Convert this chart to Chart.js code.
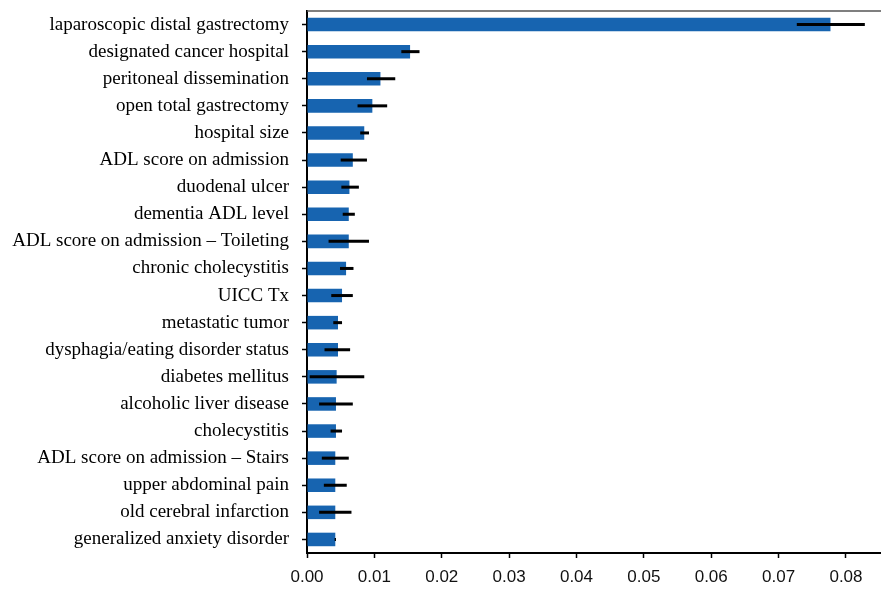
<!DOCTYPE html>
<html>
<head>
<meta charset="utf-8">
<script src="https://cdn.jsdelivr.net/npm/chart.js@4.4.1/dist/chart.umd.min.js"></script>
<style>
  html, body { margin: 0; padding: 0; background: #fff; }
  #wrap { width: 881px; height: 590px; }
</style>
</head>
<body>
<div id="wrap"><canvas id="c" width="881" height="590"></canvas></div>
<script>
// Feature names, top to bottom
const features = [
  "laparoscopic distal gastrectomy",
  "designated cancer hospital",
  "peritoneal dissemination",
  "open total gastrectomy",
  "hospital size",
  "ADL score on admission",
  "duodenal ulcer",
  "dementia ADL level",
  "ADL score on admission \u2013 Toileting",
  "chronic cholecystitis",
  "UICC Tx",
  "metastatic tumor",
  "dysphagia/eating disorder status",
  "diabetes mellitus",
  "alcoholic liver disease",
  "cholecystitis",
  "ADL score on admission \u2013 Stairs",
  "upper abdominal pain",
  "old cerebral infarction",
  "generalized anxiety disorder"
];

// Mean importance per feature
const importance = [
  0.0777, 0.0153, 0.0109, 0.0097, 0.0085, 0.0068, 0.0063, 0.0062, 0.0062, 0.0058,
  0.0052, 0.0046, 0.0046, 0.0044, 0.0043, 0.0043, 0.0042, 0.0042, 0.0042, 0.0042
];

// Lower and upper ends of the error bars
const errLow = [
  0.0727, 0.0140, 0.0089, 0.0075, 0.0079, 0.0050, 0.0051, 0.0053, 0.0032, 0.0049,
  0.0036, 0.0039, 0.0026, 0.0004, 0.0018, 0.0035, 0.0022, 0.0025, 0.0018, 0.0041
];
const errHigh = [
  0.0828, 0.0167, 0.0131, 0.0119, 0.0092, 0.0089, 0.0077, 0.0071, 0.0092, 0.0069,
  0.0068, 0.0052, 0.0064, 0.0085, 0.0068, 0.0052, 0.0062, 0.0059, 0.0066, 0.0043
];

// Axis range and tick spacing
const xMin = 0;
const xMax = 0.0852;
const xStep = 0.01;

const errorBars = {
  id: 'errorBars',
  afterDatasetsDraw(chart) {
    const { ctx, scales: { x, y }, chartArea } = chart;
    ctx.save();
    ctx.strokeStyle = '#000';
    ctx.lineWidth = 3;
    ctx.lineCap = 'butt';
    errLow.forEach((lo, i) => {
      const py = y.getPixelForValue(i);
      ctx.beginPath();
      ctx.moveTo(x.getPixelForValue(lo), py);
      ctx.lineTo(x.getPixelForValue(errHigh[i]), py);
      ctx.stroke();
    });
    // upper frame line
    ctx.strokeStyle = '#555';
    ctx.lineWidth = 1.5;
    ctx.beginPath();
    ctx.moveTo(chartArea.left, chartArea.top);
    ctx.lineTo(chartArea.right, chartArea.top);
    ctx.stroke();
    ctx.restore();
  }
};

new Chart(document.getElementById('c'), {
  type: 'bar',
  data: {
    labels: features,
    datasets: [{
      data: importance,
      backgroundColor: '#1764b0',
      borderWidth: 0,
      categoryPercentage: 1.0,
      barPercentage: 0.5
    }]
  },
  options: {
    indexAxis: 'y',
    responsive: false,
    animation: false,
    devicePixelRatio: 1,
    layout: { padding: { top: 11, right: 0, bottom: 0, left: 0 } },
    plugins: { legend: { display: false }, tooltip: { enabled: false } },
    scales: {
      x: {
        type: 'linear',
        min: xMin,
        max: xMax,
        afterFit(scale) { scale.height = 37; scale.paddingLeft = 0; scale.paddingRight = 0; },
        ticks: {
          stepSize: xStep,
          includeBounds: false,
          padding: 9,
          color: '#111',
          font: { family: '"Liberation Sans", Arial, sans-serif', size: 17 },
          callback: v => Number(v).toFixed(2)
        },
        grid: { drawOnChartArea: false, drawTicks: true, tickLength: 5, tickColor: '#000', tickWidth: 1.5 },
        border: { display: true, color: '#000', width: 2 }
      },
      y: {
        afterFit(scale) { scale.width = 307; scale.paddingTop = 0; scale.paddingBottom = 0; },
        ticks: {
          padding: 13,
          color: '#000',
          autoSkip: false,
          font: { family: '"Liberation Serif", "Times New Roman", serif', size: 19 }
        },
        grid: { offset: false, drawOnChartArea: false, drawTicks: true, tickLength: 5, tickColor: '#000', tickWidth: 1.5 },
        border: { display: true, color: '#000', width: 2 }
      }
    }
  },
  plugins: [errorBars]
});
</script>
</body>
</html>
